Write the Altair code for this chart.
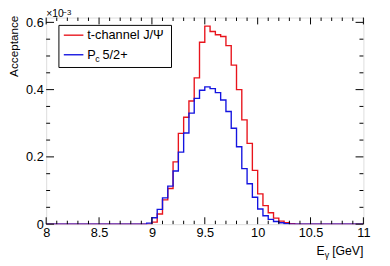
import altair as alt
import numpy as np
import pandas as pd

# ---- data (acceptance in units of 1e-3), bins of 0.05 GeV starting at 8.95 GeV
bin_start = 8.95
bin_width = 0.05
x_range = [8.0, 11.0]
tchannel = [0.0, 0.006, 0.03, 0.072, 0.106, 0.185, 0.27, 0.318, 0.366, 0.435,
            0.541, 0.589, 0.573, 0.563, 0.558, 0.531, 0.473, 0.40, 0.31, 0.24,
            0.16, 0.09, 0.055, 0.034, 0.018, 0.009, 0.004, 0.001]
pc52 = [0.003, 0.019, 0.044, 0.078, 0.113, 0.158, 0.214, 0.271, 0.33, 0.374,
        0.398, 0.408, 0.403, 0.391, 0.369, 0.335, 0.285, 0.23, 0.165, 0.12,
        0.08, 0.045, 0.025, 0.014, 0.008, 0.004, 0.001, 0.0]
series_names = ["t-channel J/Ψ", "Pc 5/2+"]
colors = ["#e8141c", "#1414e0"]
x_labels = [8, 8.5, 9, 9.5, 10, 10.5, 11]
y_labels = [0, 0.2, 0.4, 0.6]

W, H = 324, 211
y_max = 0.6143
FONT = "Liberation Sans"


def hist_frame(values, name):
    n_total = int(round((x_range[1] - x_range[0]) / bin_width))
    edges = np.round(x_range[0] + bin_width * np.arange(n_total + 1), 4)
    y = np.zeros(n_total + 1)
    i0 = int(round((bin_start - x_range[0]) / bin_width))
    y[i0:i0 + len(values)] = values
    return pd.DataFrame({"E": edges, "acc": y, "series": name})


xs = alt.Scale(domain=x_range, nice=False, zero=False)
ys = alt.Scale(domain=[0, y_max], nice=False, zero=True)

x_axis = alt.Axis(values=x_labels, format="~g", ticks=False, domain=False, grid=False,
                  labelFontSize=13, labelFont=FONT, labelColor="black", labelPadding=3,
                  labelFlush=False, labelOverlap=False, title=None)
y_axis = alt.Axis(values=y_labels, format="~g", ticks=False, domain=False, grid=False,
                  labelFontSize=13, labelFont=FONT, labelColor="black", labelPadding=3,
                  labelFlush=False, labelOverlap=False, title=None)


def hist_layer(values, name, color):
    return alt.Chart(hist_frame(values, name)).mark_line(
        interpolate="step-after", color=color, strokeWidth=1.4, clip=True
    ).encode(x=alt.X("E:Q", scale=xs, axis=x_axis), y=alt.Y("acc:Q", scale=ys, axis=y_axis))


red = hist_layer(tchannel, series_names[0], colors[0])
blue = hist_layer(pc52, series_names[1], colors[1])

# ---- tick marks (ROOT style, inward on all four sides)
x_major = x_labels
x_minor = [v for v in np.round(np.arange(8.0, 11.0001, 0.1), 2) if not any(abs(v - m) < 1e-6 for m in x_major)]
y_major = y_labels
y_minor = [v for v in np.round(np.arange(0.0, 0.6001, 0.05), 3) if not any(abs(v - m) < 1e-6 for m in y_major)]


def xticks(vals, length):
    df = pd.DataFrame({"t": vals})
    b = alt.Chart(df).mark_rule(color="black", strokeWidth=1).encode(
        x=alt.X("t:Q", scale=xs), y=alt.value(H), y2=alt.value(H - length))
    t = alt.Chart(df).mark_rule(color="black", strokeWidth=1).encode(
        x=alt.X("t:Q", scale=xs), y=alt.value(0), y2=alt.value(length))
    return b + t


def yticks(vals, length):
    df = pd.DataFrame({"t": vals})
    l = alt.Chart(df).mark_rule(color="black", strokeWidth=1).encode(
        y=alt.Y("t:Q", scale=ys), x=alt.value(0), x2=alt.value(length))
    r = alt.Chart(df).mark_rule(color="black", strokeWidth=1).encode(
        y=alt.Y("t:Q", scale=ys), x=alt.value(W), x2=alt.value(W - length))
    return l + r


ticks = xticks(x_major, 7) + xticks(x_minor, 3.5) + yticks(y_major, 8) + yticks(y_minor, 4)

# ---- texts
one = pd.DataFrame({"k": [0]})


def txt(text, x, y, size=13, align="left", baseline="alphabetic", angle=0, color="black"):
    kw = dict(text=text, fontSize=size, font=FONT, align=align, baseline=baseline, color=color)
    if angle:
        kw["angle"] = angle
    return alt.Chart(one).mark_text(**kw).encode(x=alt.value(x), y=alt.value(y))


exp_label = txt("×10", 0, -0.5, size=10.5) + txt("−3", 16.5, -2.5, size=8)
y_title = txt("Acceptance", -28.8, -2, size=12, align="right", angle=270)
x_title = (txt("E", 276, 243, size=12.5) + txt("γ", 284.5, 246, size=9)
           + txt("[GeV]", 324, 243, size=12.5, align="right"))

# legend
legend_box = alt.Chart(one).mark_rect(fill="white", stroke="black", strokeWidth=1).encode(
    x=alt.value(13), x2=alt.value(128), y=alt.value(8), y2=alt.value(51))
leg_red = alt.Chart(one).mark_rule(color=colors[0], strokeWidth=1.4).encode(
    x=alt.value(18), x2=alt.value(38), y=alt.value(18))
leg_blue = alt.Chart(one).mark_rule(color=colors[1], strokeWidth=1.4).encode(
    x=alt.value(18), x2=alt.value(38), y=alt.value(38))
leg_txt = (txt(series_names[0], 42, 18, size=13, baseline="middle")
           + txt("P", 42, 42.5, size=13)
           + txt("c", 50, 45, size=9)
           + txt("5/2+", 57.5, 42.5, size=13))

chart = alt.layer(
    red, blue, ticks, legend_box, leg_red, leg_blue, leg_txt, exp_label, y_title, x_title
).properties(
    width=W, height=H,
    autosize=alt.AutoSizeParams(type="none"),
    padding={"left": 39, "top": 7, "right": 19, "bottom": 40},
).configure_view(stroke="black", strokeWidth=1).configure(background="white")

chart.save("out.html", embed_options={"renderer": "svg", "actions": False})
